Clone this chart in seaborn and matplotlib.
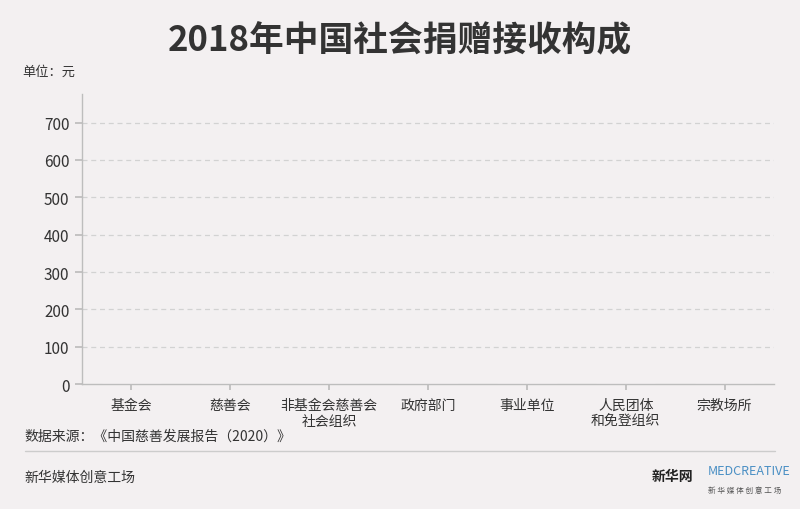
import matplotlib
matplotlib.use("Agg")
import matplotlib.pyplot as plt
import seaborn as sns
import pandas as pd

# data: the reference shows no visible bars, so every value is 0
categories = ["基金会", "慈善会", "非基金会慈善会\n社会组织", "政府部门",
              "事业单位", "人民团体\n和免登组织", "宗教场所"]
values = [0, 0, 0, 0, 0, 0, 0]
yticks = [0, 100, 200, 300, 400, 500, 600, 700]

bg = "#f3f0f1"
grey = "#bdbdbd"
txt = "#333333"

sns.set_theme(style="white")
plt.rcParams["font.family"] = ["Noto Sans CJK SC", "DejaVu Sans"]

df = pd.DataFrame({"类别": categories, "金额": values})

fig = plt.figure(figsize=(8, 5.1), dpi=100, facecolor=bg)
ax = fig.add_axes([0.1025, 0.245, 0.865, 0.569])
ax.set_facecolor(bg)

sns.barplot(data=df, x="类别", y="金额", color="#c0392b", ax=ax, width=0.6)

ax.set_xlim(-0.5, len(categories) - 0.5)
ax.set_ylim(0, 777)
ax.set_yticks(yticks)
ax.set_xlabel("")
ax.set_ylabel("")

# dashed grid, skipping the baseline
for y in yticks[1:]:
    ax.axhline(y, color="#d2d2d2", lw=0.9, ls=(0, (4, 3)), zorder=0)

for s in ["top", "right"]:
    ax.spines[s].set_visible(False)
for s in ["left", "bottom"]:
    ax.spines[s].set_color(grey)
    ax.spines[s].set_linewidth(1)

ax.tick_params(axis="y", length=5, color=grey, labelsize=11, labelcolor=txt, pad=4)
ax.tick_params(axis="x", length=4, color=grey, labelsize=10, labelcolor=txt, pad=6)
ax.tick_params(left=True, bottom=True)

fig.text(0.5, 0.92, "2018年中国社会捐赠接收构成", ha="center", va="center",
         fontsize=25, fontweight="bold", color=txt)
fig.text(0.028, 0.858, "单位：元", ha="left", va="center", fontsize=9.5, color=txt)
fig.text(0.031, 0.143, "数据来源：《中国慈善发展报告（2020）》", ha="left", va="center",
         fontsize=10, color=txt)
fig.add_artist(plt.Line2D([0.031, 0.969], [0.113, 0.113], color="#cccccc", lw=1))
fig.text(0.031, 0.062, "新华媒体创意工场", ha="left", va="center", fontsize=10, color=txt)

# rough text stand-ins for the logos
fig.text(0.815, 0.065, "新华网", ha="left", va="center", fontsize=10,
         fontweight="bold", color="#222222")
fig.text(0.885, 0.075, "MEDCREATIVE", ha="left", va="center", fontsize=9,
         color="#4a8fc4")
fig.text(0.885, 0.038, "新 华 媒 体 创 意 工 场", ha="left", va="center", fontsize=5.5,
         color="#555555")

fig.savefig("out.png", dpi=100, facecolor=bg)
